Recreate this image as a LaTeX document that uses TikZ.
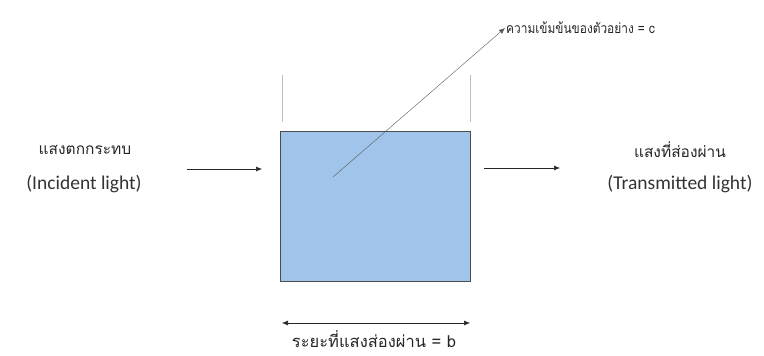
\documentclass[tikz,border=0pt]{standalone}
\usepackage{fontspec}
\setmainfont{Carlito}
\newfontfamily\thaifont[Script=Thai]{Loma}
\newfontfamily\thainarrow[Script=Thai,FakeStretch=0.85]{Loma}
\usetikzlibrary{arrows.meta, positioning}

\begin{document}
\begin{tikzpicture}[x=1pt,y=-1pt,
    txt/.style={font=\fontsize{19.5}{22}\selectfont, inner sep=1pt, text=black!80},
    thtxt/.style={font=\thaifont\fontsize{15.5}{18}\selectfont, inner sep=1pt, text=black!85},
    beam/.style={-{Latex[length=6pt,width=5pt]}, semithick, black!85}]
    \useasboundingbox (0,0) rectangle (764,356);

    \draw[gray!50] (282,75) -- (282,122);
    \draw[gray!50] (470,75) -- (470,122);
    \node[draw=black!70, thick, fill={rgb,255:red,160;green,196;blue,234},
          minimum width=190pt, minimum height=150pt, inner sep=0pt] (cell) at (375.5,206) {};

    \node[thtxt] (inth) at (85,150) {แสงตกกระทบ};
    \node[txt] (inen) at (84,184) {(Incident light)};
    \node[thtxt] (outth) at (680,150) {แสงที่ส่องผ่าน};
    \node[txt] (outen) at (680,184) {(Transmitted light)};

    \coordinate (inA) at (187,169);
    \coordinate (inB) at (262,169);
    \coordinate (outA) at (484,168);
    \coordinate (outB) at (560,168);
    \draw[beam] (inA) -- (inB);
    \draw[beam] (outA) -- (outB);

    \coordinate (conc) at (333,177);
    \node[thtxt, anchor=west, font=\thainarrow\fontsize{14}{16}\selectfont] (cth) at (505,28) {ความเข้มข้นของตัวอย่าง = c};
    \draw[-{Latex[length=6pt,width=5pt]}, black!65] (conc) -- (cth.west);

    \coordinate (bL) at (282,323);
    \coordinate (bR) at (470,323);
    \draw[{Latex[length=6pt,width=5pt]}-{Latex[length=6pt,width=5pt]}, semithick, black!85] (bL) -- (bR);
    \node[thtxt, font=\thaifont\fontsize{16.5}{18}\selectfont] (bth) at (374,339) {ระยะที่แสงส่องผ่าน = b};
\end{tikzpicture}
\end{document}
